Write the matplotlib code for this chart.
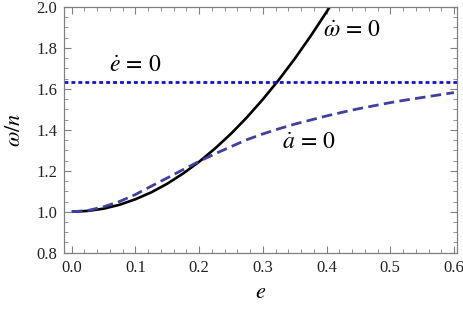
import numpy as np
import matplotlib.pyplot as plt
from matplotlib.ticker import MultipleLocator

#--------------------- DATA -------------------#
# omega_dot = 0 curve (solid black)
e_omega = [0.0, 0.025, 0.05, 0.075, 0.10, 0.125, 0.15, 0.175, 0.20, 0.225,
           0.25, 0.275, 0.30, 0.325, 0.35, 0.375, 0.40, 0.41]
omega_dot0 = [1.000, 1.004, 1.015, 1.034, 1.061, 1.095, 1.137, 1.187, 1.244, 1.309,
              1.381, 1.461, 1.549, 1.644, 1.747, 1.858, 1.976, 2.025]

# a_dot = 0 curve (dashed)
e_a = [0.0, 0.025, 0.05, 0.075, 0.10, 0.125, 0.15, 0.175, 0.20, 0.225, 0.25,
       0.275, 0.30, 0.325, 0.35, 0.375, 0.40, 0.425, 0.45, 0.475, 0.50,
       0.525, 0.55, 0.575, 0.60]
a_dot0 = [1.000, 1.006, 1.024, 1.050, 1.084, 1.125, 1.165, 1.206, 1.246, 1.283, 1.318,
          1.352, 1.380, 1.405, 1.428, 1.448, 1.468, 1.486, 1.503, 1.518, 1.533,
          1.546, 1.558, 1.570, 1.582]

# e_dot = 0 (dotted horizontal)
e_dot0 = 1.633

#--------------------- FIGURE -------------------#
plt.rcParams['font.family'] = ['Liberation Serif', 'DejaVu Serif']
plt.rcParams['mathtext.fontset'] = 'stix'

fig = plt.figure(figsize=(4.63, 3.13), dpi=100)
ax = fig.add_axes([0.1389, 0.1927, 0.8481, 0.7849])

ax.plot(e_omega, omega_dot0, color='black', lw=1.9, solid_capstyle='butt')
ax.plot(e_a, a_dot0, color='#4040a0', lw=2.0, dashes=(3.8, 1.9))
ax.axhline(e_dot0, color='#1010e0', lw=2.0, dashes=(1.4, 1.1))

ax.set_xlim(-0.0116, 0.6047)
ax.set_ylim(0.8, 2.0)

ax.xaxis.set_major_locator(MultipleLocator(0.1))
ax.xaxis.set_minor_locator(MultipleLocator(0.02))
ax.yaxis.set_major_locator(MultipleLocator(0.2))
ax.yaxis.set_minor_locator(MultipleLocator(0.05))
ax.xaxis.set_major_formatter(lambda v, p: f"{v:.1f}")
ax.yaxis.set_major_formatter(lambda v, p: f"{v:.1f}")

grey = '#808080'
ax.tick_params(which='both', direction='in', top=True, right=True, color=grey,
               labelsize=12, labelcolor='#222222')
ax.tick_params(which='major', length=5, width=0.8, pad=5)
ax.tick_params(which='minor', length=3, width=0.6)
for s in ax.spines.values():
    s.set_color(grey)
    s.set_linewidth(0.9)

ax.set_xlabel('$e$', fontsize=16, labelpad=6)
ax.set_ylabel(r'$\omega/n$', fontsize=16, labelpad=8)

ax.text(0.058, 1.683, r'$\dot{e}\,=\,0$', fontsize=17)
ax.text(0.395, 1.855, r'$\dot{\omega}\,=\,0$', fontsize=17)
ax.text(0.33, 1.305, r'$\dot{a}\,=\,0$', fontsize=17)

fig.savefig('out.png', dpi=100)
